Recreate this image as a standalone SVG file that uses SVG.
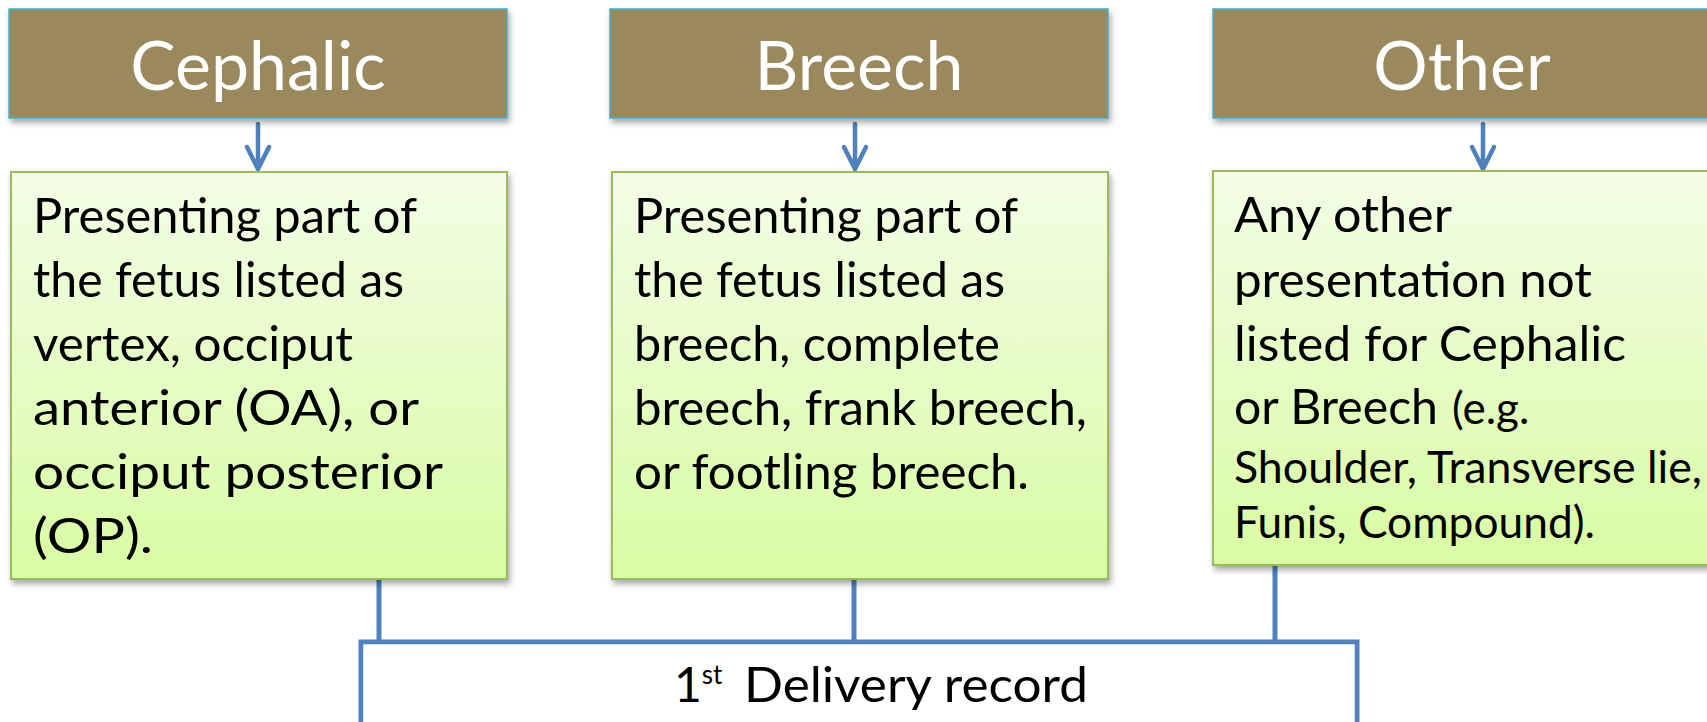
<svg xmlns="http://www.w3.org/2000/svg" width="1707" height="722" viewBox="0 0 1707 722">
  <defs>
    <linearGradient id="greenFill" x1="0" y1="0" x2="0" y2="1">
      <stop offset="0" stop-color="#F3FDE6"/>
      <stop offset="1" stop-color="#D8FCA4"/>
    </linearGradient>
    <filter id="shadow" x="-5%" y="-5%" width="115%" height="120%">
      <feDropShadow dx="2" dy="4" stdDeviation="3" flood-color="#000" flood-opacity="0.35"/>
    </filter>
  </defs>
  <style>
    .header { fill: #9A895D; stroke: #4BACC6; stroke-width: 1.5; }
    .detail { fill: url(#greenFill); stroke: #9BBB59; stroke-width: 2; }
    .htext { font-family: Lato, "Open Sans", sans-serif; font-size: 68px; fill: #FFFFFF; text-anchor: middle; }
    .btext { font-family: Lato, "Open Sans", sans-serif; font-size: 48px; fill: #000000; }
    .small { font-size: 44px; }
    .sup { font-size: 26px; }
    .link { fill: none; stroke: #4F81BD; stroke-width: 5; }
    .arrow { fill: none; stroke: #4F81BD; stroke-width: 4.5; stroke-linecap: round; stroke-linejoin: round; }
  </style>

  <!-- connectors: header-to-detail arrows and the tree into the record box -->
  <g id="connectors">
    <path class="arrow" d="M258 124 V169 M247 147 L258 169 L269 147"/>
    <path class="arrow" d="M855 124 V169 M844 147 L855 169 L866 147"/>
    <path class="arrow" d="M1483 124 V169 M1472 147 L1483 169 L1494 147"/>
    <path class="link" d="M379 579 V642"/>
    <path class="link" d="M854 579 V642"/>
    <path class="link" d="M1275 565 V642"/>
  </g>

  <g id="cephalic-header">
    <rect class="header" x="9" y="9" width="498" height="109" filter="url(#shadow)"/>
    <text class="htext" x="258" y="90">Cephalic</text>
  </g>
  <g id="breech-header">
    <rect class="header" x="610" y="9" width="498" height="109" filter="url(#shadow)"/>
    <text class="htext" x="859" y="90">Breech</text>
  </g>
  <g id="other-header">
    <rect class="header" x="1213" y="9" width="540" height="109" filter="url(#shadow)"/>
    <text class="htext" x="1462" y="90">Other</text>
  </g>

  <g id="cephalic-detail">
    <rect class="detail" x="11" y="172" width="496" height="407" filter="url(#shadow)"/>
    <text class="btext" x="33" y="233" textLength="384" lengthAdjust="spacingAndGlyphs">Presenting part of</text>
    <text class="btext" x="33" y="297" textLength="371" lengthAdjust="spacingAndGlyphs">the fetus listed as</text>
    <text class="btext" x="33" y="361" textLength="320" lengthAdjust="spacingAndGlyphs">vertex, occiput</text>
    <text class="btext" x="33" y="425" textLength="386" lengthAdjust="spacingAndGlyphs">anterior (OA), or</text>
    <text class="btext" x="33" y="489" textLength="410" lengthAdjust="spacingAndGlyphs">occiput posterior</text>
    <text class="btext" x="33" y="553" textLength="120" lengthAdjust="spacingAndGlyphs">(OP).</text>
  </g>
  <g id="breech-detail">
    <rect class="detail" x="612" y="172" width="496" height="407" filter="url(#shadow)"/>
    <text class="btext" x="634" y="233" textLength="384" lengthAdjust="spacingAndGlyphs">Presenting part of</text>
    <text class="btext" x="634" y="297" textLength="371" lengthAdjust="spacingAndGlyphs">the fetus listed as</text>
    <text class="btext" x="634" y="361" textLength="366" lengthAdjust="spacingAndGlyphs">breech, complete</text>
    <text class="btext" x="634" y="425" textLength="453" lengthAdjust="spacingAndGlyphs">breech, frank breech,</text>
    <text class="btext" x="634" y="489" textLength="395" lengthAdjust="spacingAndGlyphs">or footling breech.</text>
  </g>
  <g id="other-detail">
    <rect class="detail" x="1213" y="171" width="540" height="394" filter="url(#shadow)"/>
    <text class="btext" x="1234" y="232" textLength="218" lengthAdjust="spacingAndGlyphs">Any other</text>
    <text class="btext" x="1234" y="297" textLength="358" lengthAdjust="spacingAndGlyphs">presentation not</text>
    <text class="btext" x="1234" y="361" textLength="392" lengthAdjust="spacingAndGlyphs">listed for Cephalic</text>
    <text class="btext" x="1234" y="424" textLength="204" lengthAdjust="spacingAndGlyphs">or Breech</text>
    <text class="btext small" x="1452" y="424">(e.g.</text>
    <text class="btext small" x="1234" y="483" textLength="468" lengthAdjust="spacingAndGlyphs">Shoulder, Transverse lie,</text>
    <text class="btext small" x="1234" y="538" textLength="361" lengthAdjust="spacingAndGlyphs">Funis, Compound).</text>
  </g>

  <g id="delivery-record">
    <path class="link" d="M361 745 V642 H1357 V745"/>
    <rect x="363.5" y="644.5" width="991" height="90" fill="#FFFFFF"/>
    <text class="btext" x="674" y="702">1<tspan class="sup" dy="-18">st</tspan></text>
    <text class="btext" x="744" y="702" textLength="344" lengthAdjust="spacingAndGlyphs">Delivery record</text>
  </g>
</svg>
